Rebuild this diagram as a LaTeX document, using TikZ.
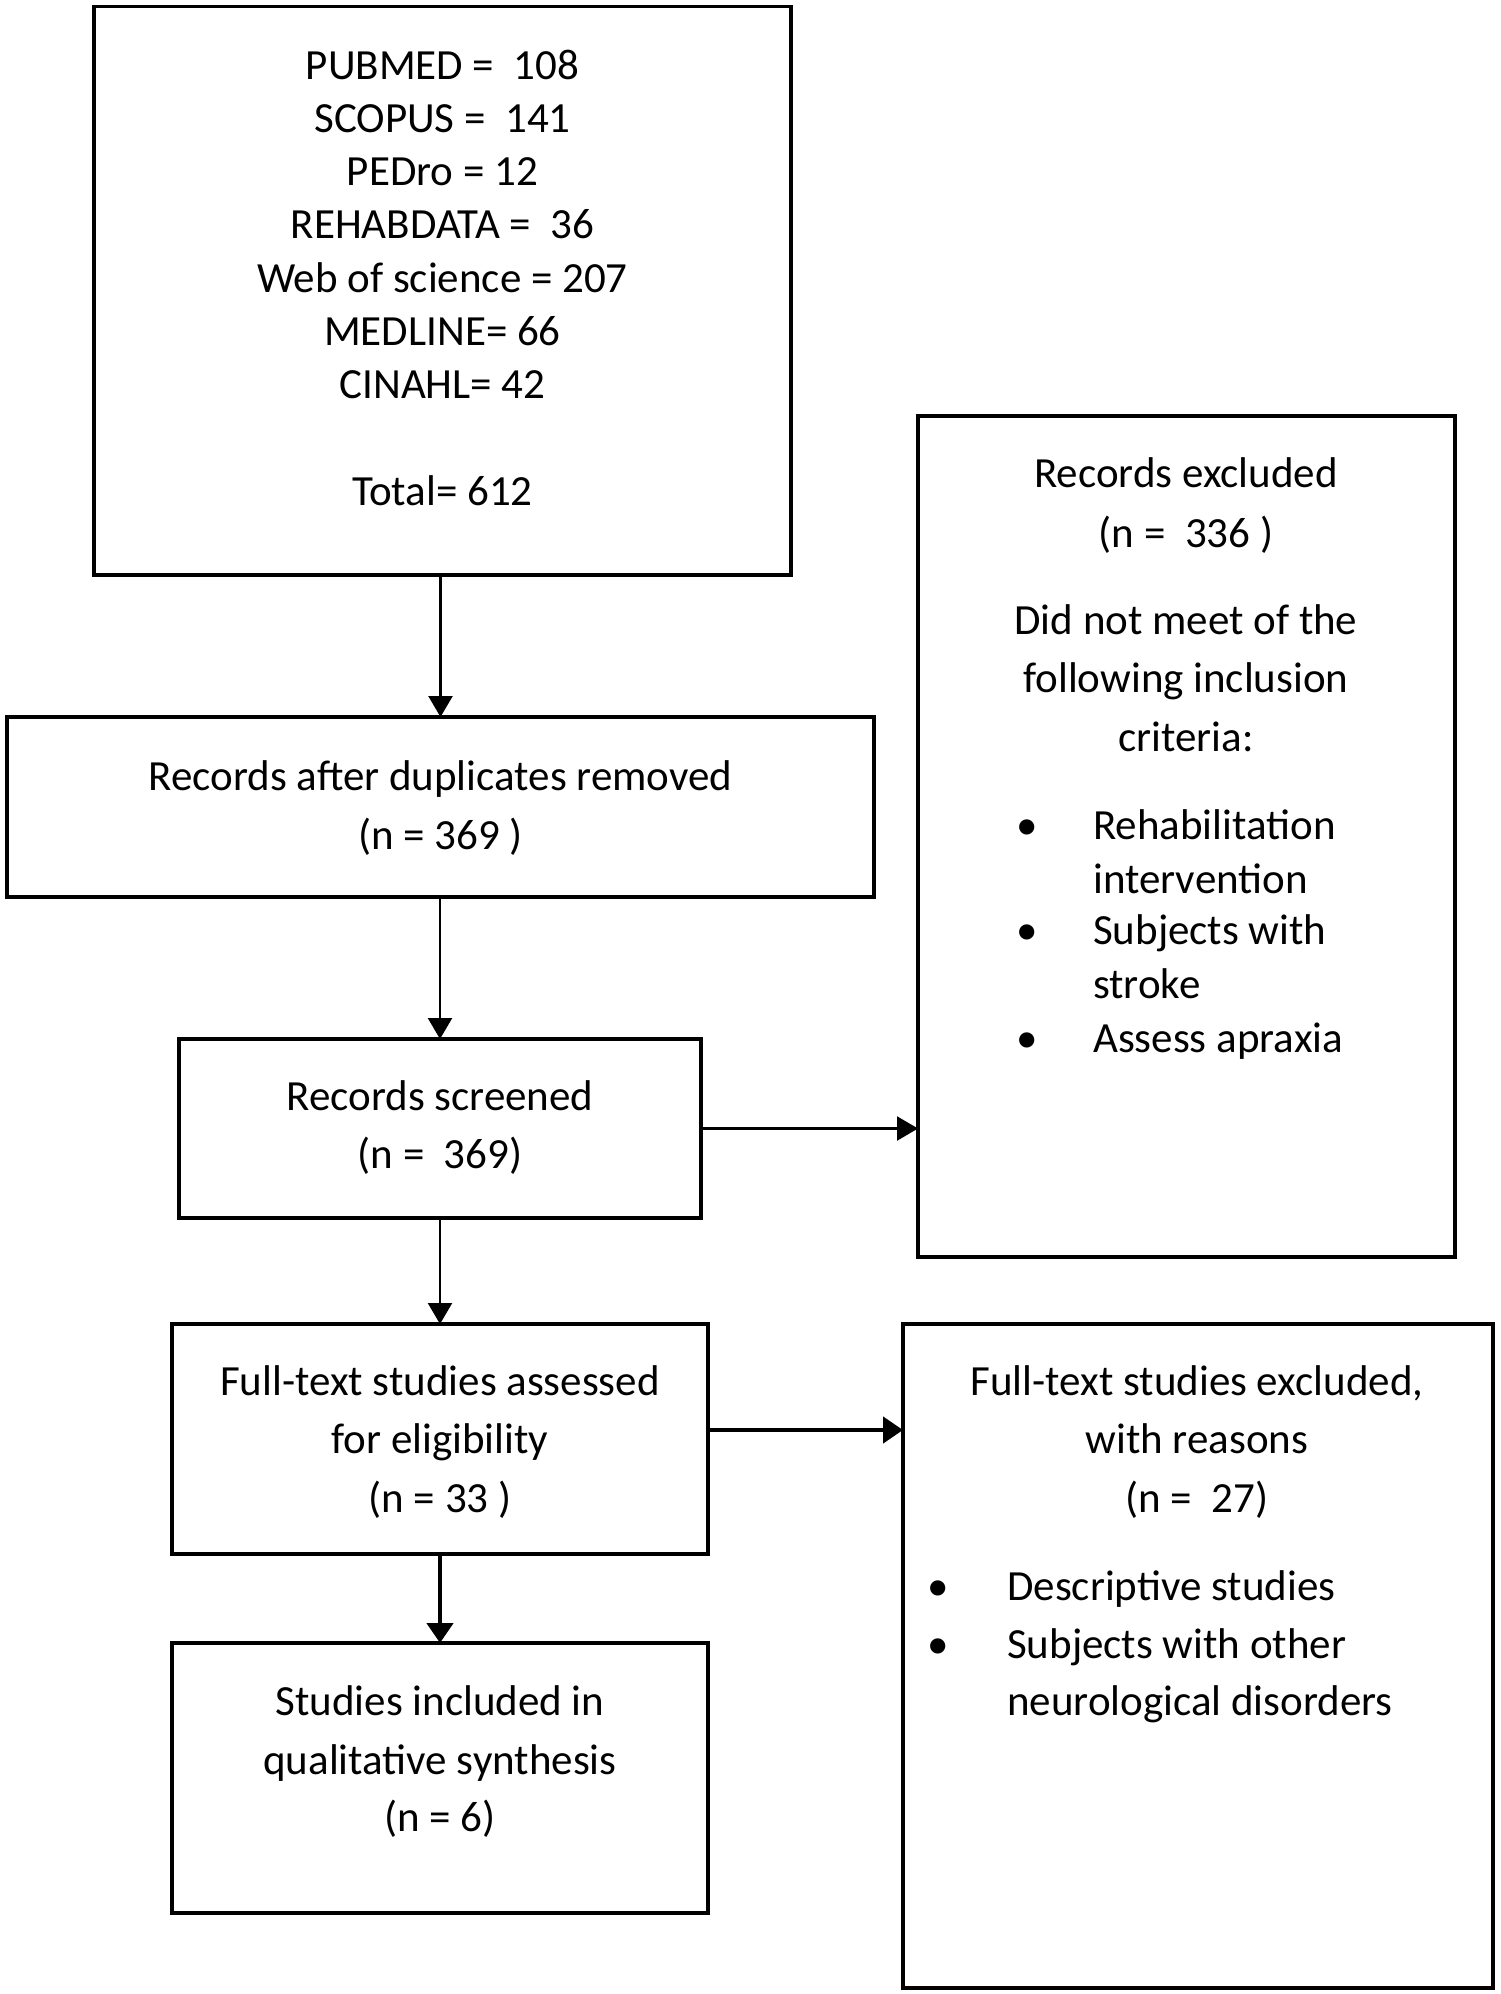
\documentclass[tikz,border=0pt]{standalone}
\usepackage{fontspec}
\setmainfont{Carlito}
\usetikzlibrary{arrows.meta}
\begin{document}
\begin{tikzpicture}[x=1pt,y=-1pt,
  box/.style={draw=black, line width=3.5pt, rectangle, inner sep=0pt, outer sep=0pt},
  txt/.style={font=\fontsize{43}{52}\selectfont, inner sep=0pt, anchor=base},
  lft/.style={txt, anchor=base west},
  arr/.style={line width=2.3pt, -{Triangle[length=21pt,width=24pt]}},
  arrb/.style={line width=4.5pt, -{Triangle[length=20pt,width=26pt]}}]
\useasboundingbox[fill=white] (0,0) rectangle (1500,1994);
% boxes
\node[box, minimum width=697pt, minimum height=568.5pt] (b1) at (442.5,290.75) {};
\node[box, minimum width=867pt, minimum height=180pt] (b2) at (440.5,807) {};
\node[box, minimum width=522pt, minimum height=179pt] (b3) at (440,1128.5) {};
\node[box, minimum width=536pt, minimum height=230pt] (b4) at (440,1439) {};
\node[box, minimum width=536pt, minimum height=270pt] (b5) at (440,1778) {};
\node[box, minimum width=537pt, minimum height=841pt] (r1) at (1186.5,836.5) {};
\node[box, minimum width=590pt, minimum height=664pt] (r2) at (1198,1656) {};
% box 1 text
\node[txt] (t11) at (442.5,79) {PUBMED =\ \ 108};
\node[txt] (t12) at (442.5,132.25) {SCOPUS =\ \ 141};
\node[txt] (t13) at (442.5,185.5) {PEDro = 12};
\node[txt] (t14) at (442.5,238.75) {REHABDATA =\ \ 36};
\node[txt] (t15) at (442.5,292) {Web of science = 207};
\node[txt] (t16) at (442.5,345.25) {MEDLINE= 66};
\node[txt] (t17) at (442.5,398.5) {CINAHL= 42};
\node[txt] (t18) at (442.5,505) {Total= 612};
% box 2
\node[txt] (t21) at (440.5,790) {Records after duplicates removed};
\node[txt] (t22) at (440.5,849) {(n = 369 )};
% box 3
\node[txt] (t31) at (440,1110) {Records screened};
\node[txt] (t32) at (440,1168) {(n =\ \ 369)};
% box 4
\node[txt] (t41) at (440,1395) {Full-text studies assessed};
\node[txt] (t42) at (440,1453) {for eligibility};
\node[txt] (t43) at (440,1512) {(n = 33 )};
% box 5
\node[txt] (t51) at (440,1715) {Studies included in};
\node[txt] (t52) at (440,1774) {qualitative synthesis};
\node[txt] (t53) at (440,1831) {(n = 6)};
% right box 1
\node[txt] (u11) at (1186,487) {Records excluded};
\node[txt] (u12) at (1186,547) {(n =\ \ 336 )};
\node[txt] (u13) at (1186,634) {Did not meet of the};
\node[txt] (u14) at (1186,692) {following inclusion};
\node[txt] (u15) at (1186,751) {criteria:};
\node[txt] (ub1) at (1027,839) {•};
\node[lft] (u16) at (1093,839) {Rehabilitation};
\node[lft] (u17) at (1093,893) {intervention};
\node[txt] (ub2) at (1027,944) {•};
\node[lft] (u18) at (1093,944) {Subjects with};
\node[lft] (u19) at (1093,998) {stroke};
\node[txt] (ub3) at (1027,1052) {•};
\node[lft] (u110) at (1093,1052) {Assess apraxia};
% right box 2
\node[txt] (u21) at (1197,1395) {Full-text studies excluded,};
\node[txt] (u22) at (1197,1453) {with reasons};
\node[txt] (u23) at (1197,1512) {(n =\ \ 27)};
\node[txt] (vb1) at (938,1600) {•};
\node[lft] (u24) at (1007,1600) {Descriptive studies};
\node[txt] (vb2) at (938,1658) {•};
\node[lft] (u25) at (1007,1658) {Subjects with other};
\node[lft] (u26) at (1007,1715) {neurological disorders};
% connectors
\draw[arr] (b1.south -| b2.north) -- (b2.north);
\draw[arr] (b2.south -| b3.north) -- (b3.north);
\draw[arr] (b3.east) -- (b3.east -| r1.west);
\draw[arr] (b3.south) -- (b4.north);
\draw[arrb] ([yshift=9pt]b4.east) -- ([yshift=9pt]b4.east -| r2.west);
\draw[arrb] (b4.south) -- (b5.north);
\end{tikzpicture}
\end{document}
